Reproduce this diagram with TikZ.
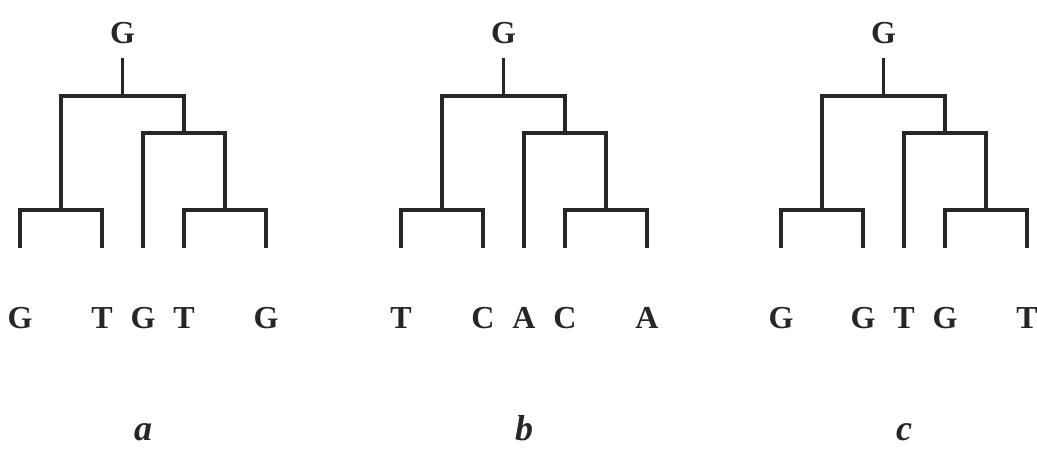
\documentclass[tikz,border=0pt]{standalone}
\usepackage{fontspec}
\setmainfont{Liberation Serif}
\usetikzlibrary{positioning}
\tikzstyle{branch} = [line width=3.2pt, draw=black!85, line join=miter, line cap=butt]
\tikzstyle{base}   = [inner sep=0pt, anchor=base, text=black!85,
                      font=\fontsize{32}{38}\selectfont\bfseries]
\tikzstyle{tag}    = [inner sep=0pt, anchor=base, text=black!85,
                      font=\fontsize{36}{42}\selectfont\bfseries\itshape]

\begin{document}
\begin{tikzpicture}[x=1pt, y=-1pt]
    \useasboundingbox (0,0) rectangle (1037,448);

    \foreach \tr/\ox/\sA/\sB/\sC/\sD/\sE in {a/20/G/T/G/T/G, b/401/T/C/A/C/A, c/781/G/G/T/G/T} {
        % leaf ends
        \coordinate (\tr-l1) at (\ox,248);
        \coordinate (\tr-l2) at (\ox+82,248);
        \coordinate (\tr-l3) at (\ox+123,248);
        \coordinate (\tr-l4) at (\ox+164,248);
        \coordinate (\tr-l5) at (\ox+246,248);
        % joints
        \coordinate (\tr-j1) at (\ox+41,210);
        \coordinate (\tr-j3) at (\ox+205,210);
        \coordinate (\tr-j2) at (\ox+164,133);
        \coordinate (\tr-r)  at (\ox+102.5,96);
        \coordinate (\tr-top) at (\ox+102.5,58);

        \node (\tr-root) [base] at (\ox+102.5,43) {G};

        \node (\tr-w1) [base] at (\ox,328) {\sA};
        \node (\tr-w2) [base] at (\ox+82,328) {\sB};
        \node (\tr-w3) [base] at (\ox+123,328) {\sC};
        \node (\tr-w4) [base] at (\ox+164,328) {\sD};
        \node (\tr-w5) [base] at (\ox+246,328) {\sE};

        \node (\tr-tag) [tag] at (\ox+123,440) {\tr};

        \draw[branch] (\tr-l1) |- (\tr-j1) -| (\tr-l2);
        \draw[branch] (\tr-l4) |- (\tr-j3) -| (\tr-l5);
        \draw[branch] (\tr-l3) |- (\tr-j2) -| (\tr-j3);
        \draw[branch] (\tr-j1) |- (\tr-r) -| (\tr-j2);
        \draw[branch] (\tr-r) -- (\tr-top);
    }
\end{tikzpicture}
\end{document}
